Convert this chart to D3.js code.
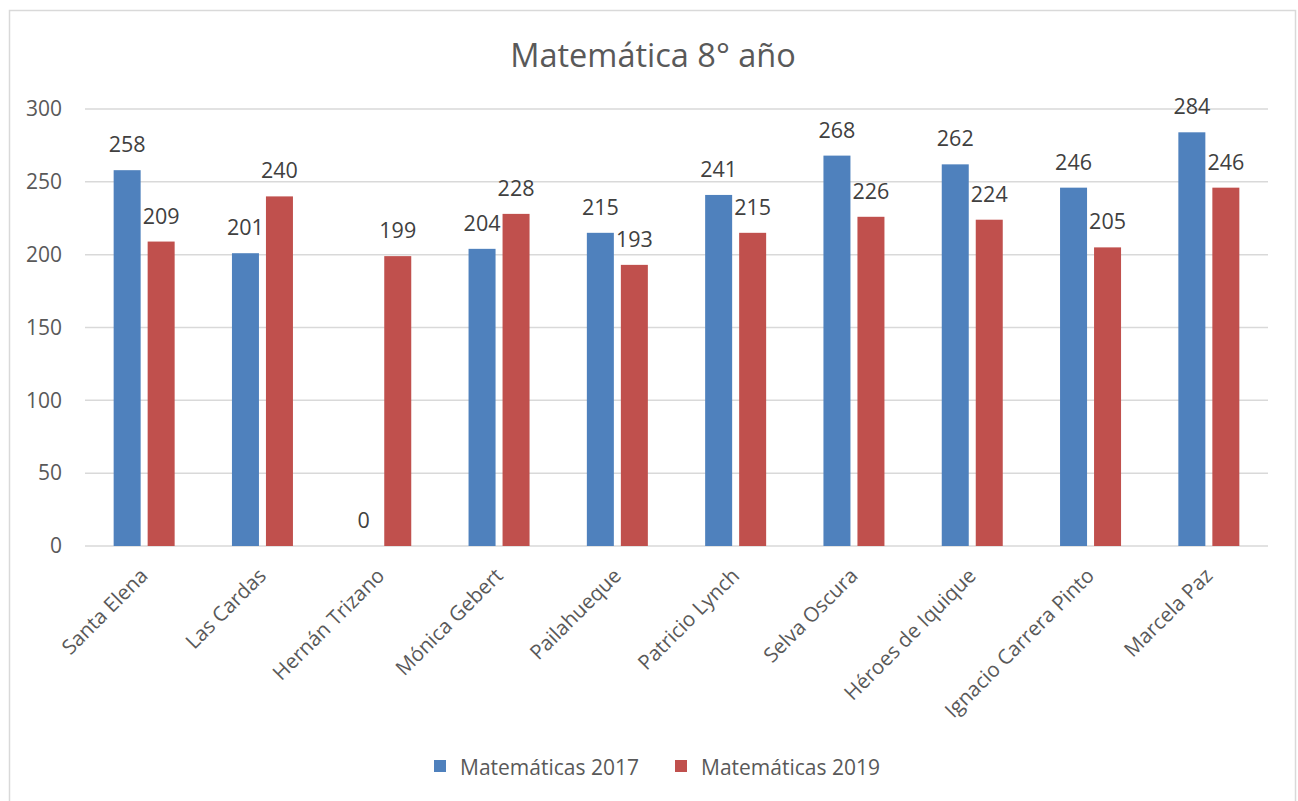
<!DOCTYPE html>
<html><head><meta charset="utf-8">
<script src="https://cdn.jsdelivr.net/npm/d3@7"></script>
<style>body{margin:0;background:#fff}svg{display:block}</style>
</head><body>
<svg id="c" width="1298" height="801"></svg>
<script>
const categories = ["Santa Elena","Las Cardas","Hernán Trizano","Mónica Gebert","Pailahueque","Patricio Lynch","Selva Oscura","Héroes de Iquique","Ignacio Carrera Pinto","Marcela Paz"];
const series2017 = [258,201,0,204,215,241,268,262,246,284];
const series2019 = [209,240,199,228,193,215,226,224,205,246];
const seriesNames = ["Matemáticas 2017","Matemáticas 2019"];
const yTicks = [0,50,100,150,200,250,300];
const title = "Matemática 8° año";
const colors = ["#4f81bd","#c0504d"];

const svg = d3.select("#c");
const font = "'Open Sans', sans-serif";
svg.append("rect").attr("x",9.5).attr("y",10.5).attr("width",1286).attr("height",800).attr("fill","#fff").attr("stroke","#d9d9d9").attr("stroke-width",1.5);

const L=85,R=1268,T=109,B=546;
const x = d3.scaleBand().domain(categories).range([L,R]);
const y = d3.scaleLinear().domain([0,300]).range([B,T]);

const g = svg.append("g");
g.selectAll("line.grid").data(yTicks).join("line")
 .attr("x1",L).attr("x2",R).attr("y1",d=>y(d)).attr("y2",d=>y(d))
 .attr("stroke","#d9d9d9").attr("stroke-width",1.5);

const yAxis = d3.axisLeft(y).tickValues(yTicks).tickSize(0).tickPadding(0);
const ya = svg.append("g").attr("transform",`translate(${L-23},0)`).call(yAxis);
ya.select(".domain").remove();
ya.selectAll("text").attr("font-family",font).attr("font-size",21).attr("fill","#595959");

const data = [series2017, series2019];
const bw = 27, off = [-17,17];
data.forEach((s,i)=>{
  const cx = d=>x(categories[d])+x.bandwidth()/2+off[i];
  g.selectAll("rect.s"+i).data(s.map((v,j)=>({v,j}))).join("rect")
   .attr("x",d=>cx(d.j)-bw/2).attr("width",bw)
   .attr("y",d=>y(d.v)).attr("height",d=>B-y(d.v))
   .attr("fill",colors[i]);
  g.selectAll("text.l"+i).data(s.map((v,j)=>({v,j}))).join("text")
   .attr("x",d=>cx(d.j)).attr("y",d=>y(d.v)-18)
   .attr("text-anchor","middle").attr("font-family",font).attr("font-size",21.5)
   .attr("fill","#404040").text(d=>d.v);
});

const xa = svg.append("g").attr("transform",`translate(0,${B})`).call(d3.axisBottom(x).tickSize(0).tickPadding(0));
xa.select(".domain").remove();
xa.selectAll("text").attr("font-family",font).attr("font-size",20.5).attr("fill","#595959")
 .attr("text-anchor","end").attr("dy",0)
 .attr("transform","translate(5,31) rotate(-45)");

svg.append("text").attr("x",653).attr("y",67).attr("text-anchor","middle")
 .attr("font-family",font).attr("font-size",32.5).attr("fill","#595959").text(title);

const lg = svg.append("g");
const lx = [434,675];
seriesNames.forEach((n,i)=>{
  lg.append("rect").attr("x",lx[i]).attr("y",760).attr("width",12).attr("height",12).attr("fill",colors[i]);
  lg.append("text").attr("x",lx[i]+26).attr("y",775).attr("font-family",font).attr("font-size",21)
   .attr("fill","#595959").text(n);
});
</script>
</body></html>
